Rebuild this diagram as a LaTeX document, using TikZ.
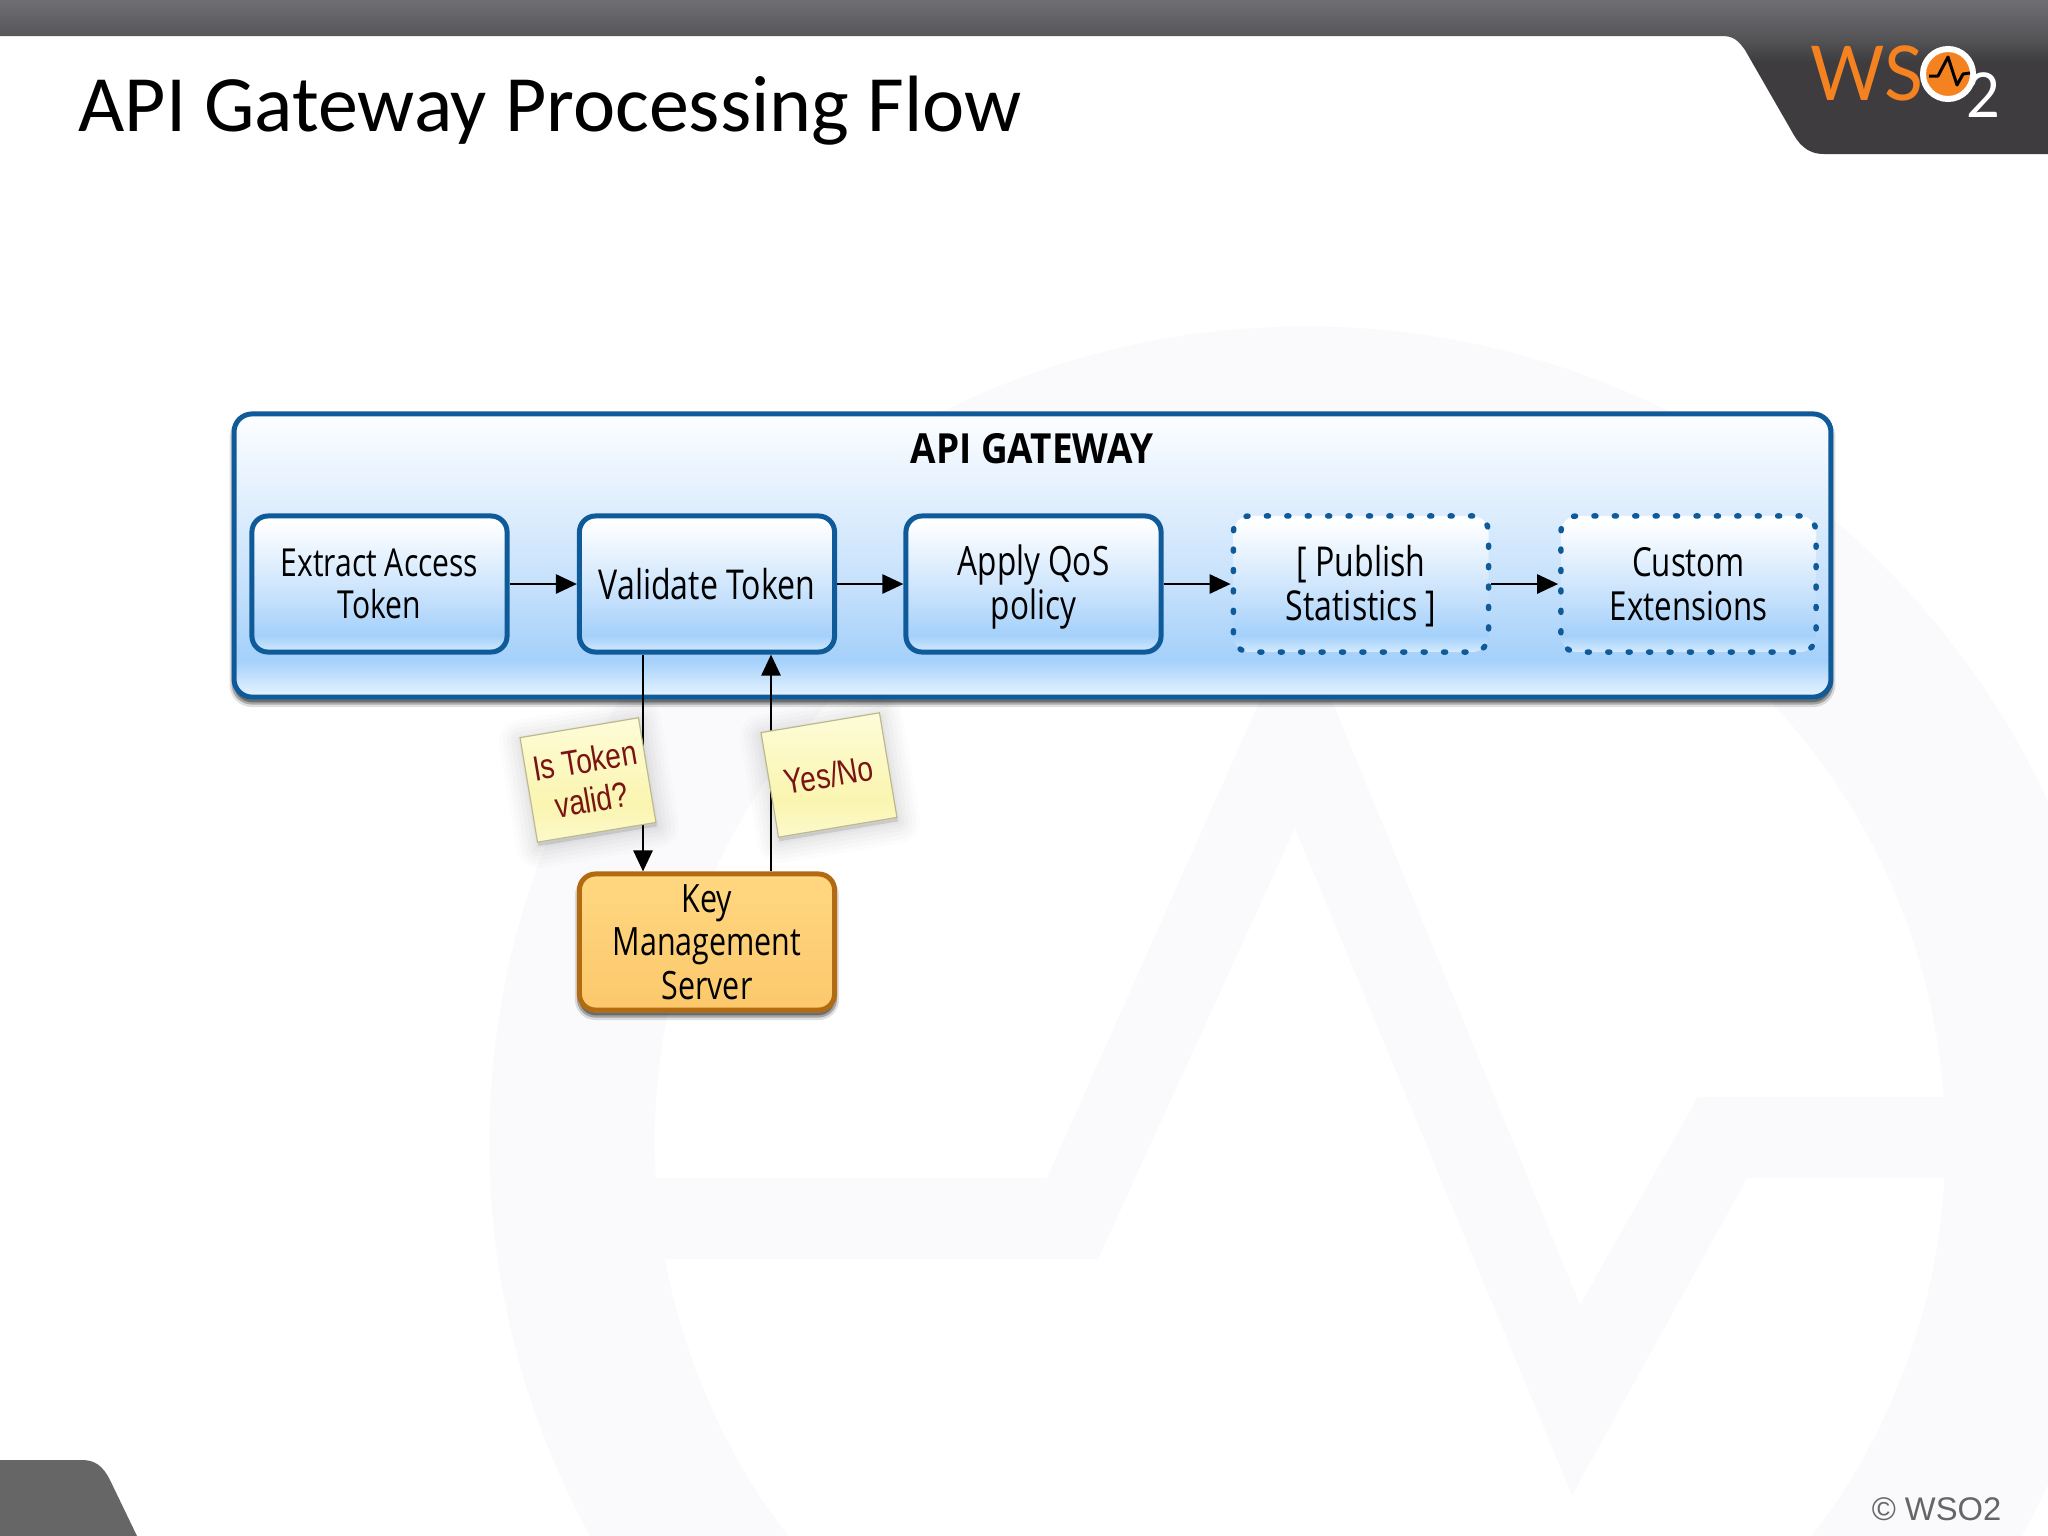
\documentclass[tikz,border=0pt]{standalone}
\usepackage{fontspec}
\usetikzlibrary{arrows.meta,shadows}
\setmainfont{Carlito}
\newfontfamily\lblfont[FakeStretch=0.78]{Open Sans}
\newfontfamily\headfont[FakeStretch=0.89]{Open Sans}
\newfontfamily\notefont[FakeStretch=0.8]{Liberation Sans}
\newfontfamily\logofont[FakeStretch=0.95]{Lato}
\newfontfamily\copyfont{Liberation Sans}
\definecolor{bluel}{HTML}{0F5B9A}
\definecolor{orngl}{HTML}{B36B12}
\definecolor{pale}{HTML}{FAF9FB}
\definecolor{logoor}{HTML}{F58220}
\definecolor{notetx}{HTML}{7A1414}
\definecolor{HexE}{HTML}{E6F3FE}\definecolor{HexD}{HTML}{D4EAFD}\definecolor{HexA}{HTML}{A4D0FA}
\definecolor{HexC}{HTML}{C6E1FC}\definecolor{HexT}{HTML}{FDFEFF}
\definecolor{KmsB}{HTML}{FCC86C}\definecolor{KmsT}{HTML}{FFD780}
\definecolor{NoteB}{HTML}{FCF9CC}\definecolor{NoteM}{HTML}{FAF5B0}\definecolor{NoteT}{HTML}{FEFCD8}
\definecolor{HdD}{HTML}{3E3C3F}\definecolor{HdM}{HTML}{565558}\definecolor{HdT}{HTML}{6F6E72}
\definecolor{NoteEdge}{HTML}{BDB98E}
\pgfdeclareverticalshading{gwshade}{100bp}{
  color(0bp)=(HexE);color(25bp)=(HexE);color(27bp)=(HexD);color(31.5bp)=(HexA);
  color(45bp)=(HexC);color(75bp)=(HexT);color(100bp)=(HexT)}
\pgfdeclareverticalshading{boxshade}{100bp}{
  color(0bp)=(HexD);color(25bp)=(HexD);color(31bp)=(HexA);color(45bp)=(HexC);
  color(72bp)=(HexT);color(100bp)=(HexT)}
\pgfdeclareverticalshading{kmsshade}{100bp}{
  color(0bp)=(KmsB);color(25bp)=(KmsB);color(75bp)=(KmsT);color(100bp)=(KmsT)}
\pgfdeclareverticalshading{noteshade}{100bp}{
  color(0bp)=(NoteB);color(25bp)=(NoteB);color(40bp)=(NoteM);color(75bp)=(NoteT);color(100bp)=(NoteT)}
\pgfdeclareverticalshading{headshade}{100bp}{
  color(0bp)=(HdD);color(25bp)=(HdD);color(55bp)=(HdD);color(63bp)=(HdM);color(75bp)=(HdT);color(100bp)=(HdT)}
\tikzset{
  softshadow/.style={
    general shadow={fill=black,draw=black,line width=.44cm,line join=round,opacity=.012,shadow xshift=.01cm,shadow yshift=-.04cm},
    general shadow={fill=black,draw=black,line width=.36cm,line join=round,opacity=.014,shadow xshift=.01cm,shadow yshift=-.04cm},
    general shadow={fill=black,draw=black,line width=.28cm,line join=round,opacity=.016,shadow xshift=.01cm,shadow yshift=-.04cm},
    general shadow={fill=black,draw=black,line width=.20cm,line join=round,opacity=.018,shadow xshift=.01cm,shadow yshift=-.04cm},
    general shadow={fill=black,draw=black,line width=.12cm,line join=round,opacity=.02,shadow xshift=.01cm,shadow yshift=-.04cm},
    general shadow={fill=black,draw=black,line width=.05cm,line join=round,opacity=.025,shadow xshift=.01cm,shadow yshift=-.04cm}},
  tightshadow/.style={
    general shadow={fill=black,draw=black,line width=.09cm,line join=round,opacity=.12,shadow yshift=-.055cm},
    general shadow={fill=black,draw=black,line width=.05cm,line join=round,opacity=.25,shadow yshift=-.05cm}},
  lblsize/.style={font=\lblfont\fontsize{11}{12.4}\selectfont},
  stepbox/.style={rectangle,rounded corners=.16cm,minimum width=2.55cm,minimum height=1.36cm,inner sep=0pt,
    line width=.05cm,shading=boxshade,align=center,text=black,lblsize},
  solidbox/.style={stepbox,draw=bluel},
  dotbox/.style={stepbox,draw=bluel,line width=.055cm,line cap=round,dash pattern=on .02cm off .184cm},
  note/.style={rectangle,minimum width=1.20cm,minimum height=1.06cm,inner sep=0pt,rotate=9.5,
    shading=noteshade,draw=NoteEdge,line width=.012cm,align=center,text=notetx,
    font=\notefont\fontsize{10}{11.4}\selectfont,softshadow},
  conn/.style={draw=black,line width=.027cm,-{Triangle[length=.21cm,width=.19cm]}},
}
\begin{document}
\begin{tikzpicture}[x=.01cm,y=-.01cm]
\useasboundingbox (0,0) rectangle (2048,1536);
\fill[white] (0,0) rectangle (2048,1536);
% watermark
\fill[pale,even odd rule] (1306,1143) circle[radius=8.16cm] (1300,1143) circle[radius=6.45cm];
\fill[pale] (650,1178) -- (1047,1178) -- (1287,640) -- (1307,640) -- (1580,1305) -- (1698,1097) -- (1950,1097)
  -- (1950,1178) -- (1747,1178) -- (1572,1495) -- (1295,828) -- (1098,1259) -- (660,1259) -- cycle;
% header and corner
\shade[shading=headshade] (0,0) -- (2048,0) -- (2048,154) -- (1824,154)
  .. controls (1806,154) and (1798,143) .. (1791,130) -- (1745,50)
  .. controls (1738,40) and (1733,36) .. (1722,36) -- (0,36) -- cycle;
\fill[fill=black!60!white] (0,1460) -- (82,1460) .. controls (95,1460) and (103,1466) .. (110,1480) -- (137,1536) -- (0,1536) -- cycle;
% logo
\node[anchor=base west,inner sep=0pt,text=logoor,font=\logofont\fontsize{21.5}{24}\selectfont] (logows) at (1810,100) {WS};
\node[anchor=base west,inner sep=0pt,text=white,font=\logofont\fontsize{17.6}{20}\selectfont] (logotwo) at (1966,117) {2};
\node[circle,draw=white,fill=logoor,line width=.06cm,minimum size=.5cm,inner sep=0pt] (logoo) at (1948,74) {};
\draw[black,line width=.03cm,line join=round] (1929,76) -- (1938,76) -- (1948,57) -- (1957,85) -- (1963,74) -- (1970,73);
% title
\node[anchor=base west,inner sep=0pt,font=\fontsize{22.73}{26}\selectfont] (title) at (78,131) {API Gateway Processing Flow};
% gateway
\node[rectangle,rounded corners=.18cm,minimum width=15.96cm,minimum height=2.83cm,inner sep=0pt,
  draw=bluel,line width=.05cm,shading=gwshade,tightshadow] (gw) at (1032.5,555.5) {};
\node[inner sep=0pt,font=\headfont\bfseries\fontsize{11.8}{14}\selectfont] (gwtitle) at (1032,449) {API GATEWAY};
% boxes
\node[solidbox,font=\lblfont\fontsize{10.97}{12}\selectfont] (extract) at (379.5,584) {Extract Access\\Token};
\node[solidbox,font=\lblfont\fontsize{11.7}{12.4}\selectfont] (validate) at (707,584) {Validate Token};
\node[solidbox,font=\lblfont\fontsize{11.5}{12.5}\selectfont] (qos) at (1033.5,584) {\rule{0pt}{10.3pt}Apply QoS\\policy};
\node[dotbox,font=\lblfont\fontsize{11.7}{12.5}\selectfont] (publish) at (1361,584) {\rule{0pt}{10pt}[ Publish\\Statistics ]};
\node[dotbox,font=\lblfont\fontsize{11.4}{12.6}\selectfont] (custom) at (1688.5,584) {Custom\\Extensions};
\node[solidbox,draw=orngl,shading=kmsshade,tightshadow,font=\lblfont\fontsize{11.1}{12.4}\selectfont] (kms) at (707,942) {Key\\Management\\Server};
% connectors
\coordinate (dnx) at (643,0);
\coordinate (upx) at (771,0);
\draw[conn] (extract) -- (validate);
\draw[conn] (validate) -- (qos);
\draw[conn] (qos) -- (publish);
\draw[conn] (publish) -- (custom);
\draw[conn] (validate.south -| dnx) -- (kms.north -| dnx);
\draw[conn] (kms.north -| upx) -- (validate.south -| upx);
% notes
\node[note] (noteq) at (588,780) {Is Token\\valid?};
\node[note] (notea) at (829,775) {Yes/No};
% copyright
\node[anchor=base east,inner sep=0pt,text=black!60!white,font=\copyfont\fontsize{9.3}{11}\selectfont] (copy) at (2002,1520) {© WSO2};
\end{tikzpicture}
\end{document}
